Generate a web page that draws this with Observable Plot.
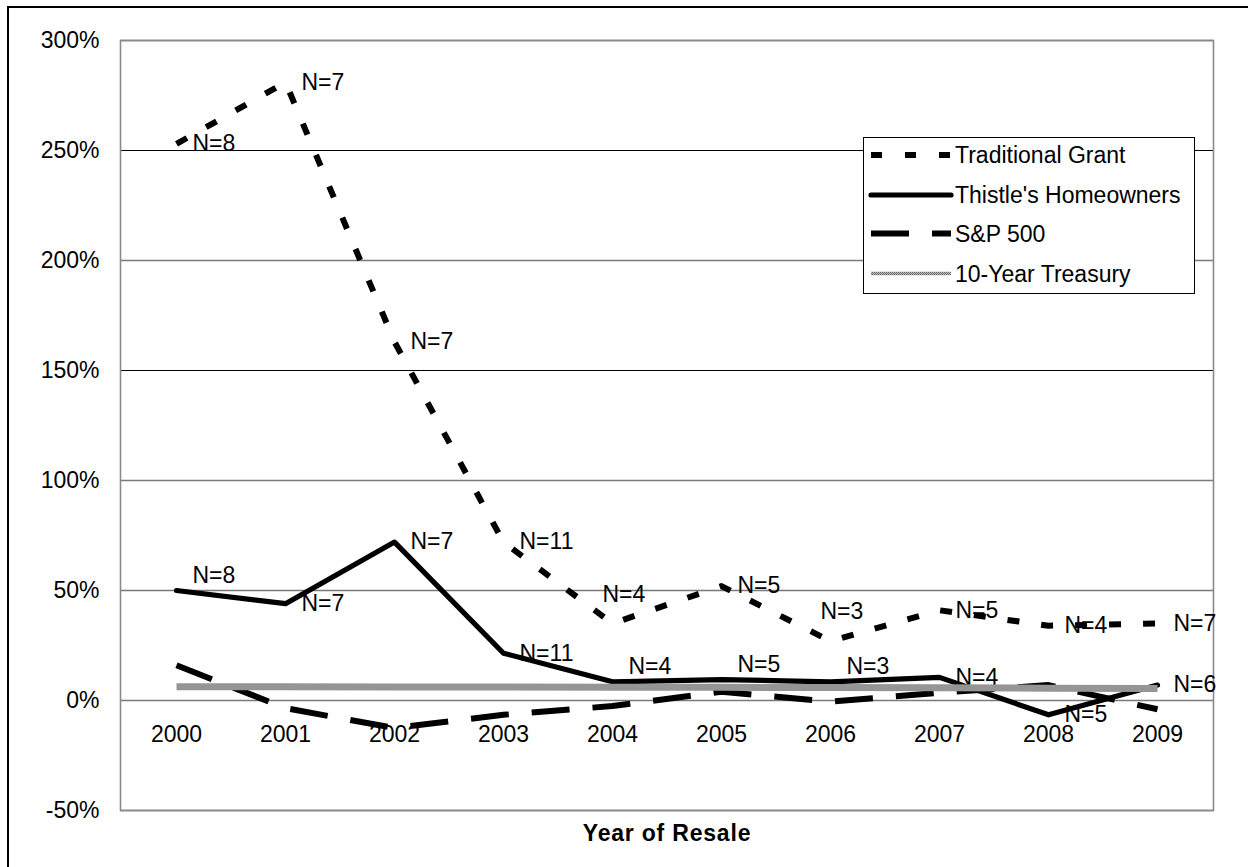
<!DOCTYPE html>
<html>
<head>
<meta charset="utf-8">
<script src="https://cdn.jsdelivr.net/npm/d3@7"></script>
<script src="https://cdn.jsdelivr.net/npm/@observablehq/plot@0.6"></script>
<style>
  html, body { margin: 0; padding: 0; background: #fff; overflow: hidden; }
  body { width: 1248px; height: 867px; position: relative; font-family: "Liberation Sans", Arial, sans-serif; }
  #chart { position: absolute; left: 0; top: 0; }
  #frame { position: absolute; left: 7px; top: 6px; width: 1400px; height: 1000px;
           border-top: 2px solid #000; border-left: 2px solid #000; pointer-events: none; }
  #legend { position: absolute; left: 863px; top: 137px; }
</style>
</head>
<body>
<svg width="0" height="0" style="position:absolute">
  <defs>
    <pattern id="dither" width="2" height="2" patternUnits="userSpaceOnUse">
      <rect width="2" height="2" fill="#c4c4c4"></rect>
      <rect width="1" height="1" fill="#666666"></rect>
      <rect x="1" y="1" width="1" height="1" fill="#666666"></rect>
    </pattern>
  </defs>
</svg>
<div id="chart"></div>
<div id="legend"></div>
<div id="frame"></div>
<script>
// ---- data ----
const years = ["2000", "2001", "2002", "2003", "2004", "2005", "2006", "2007", "2008", "2009"];
const traditionalGrant = [253, 281, 163, 72, 35, 52, 27, 41, 34, 35];
const thistleHomeowners = [50, 44, 72, 21.5, 8.5, 9.5, 8.5, 10.5, -6.5, 7];
const sp500 = [16, -3.5, -12.5, -6.5, -2.5, 4, -0.5, 3.5, 7, -4];
const treasury10 = [6.2, 6.2, 6.1, 6.1, 6.0, 6.0, 5.9, 5.8, 5.6, 5.4];
const traditionalN = [8, 7, 7, 11, 4, 5, 3, 5, 4, 7];
const thistleN = [8, 7, 7, 11, 4, 5, 3, 4, 5, 6];
const traditionalLabelSide = ["right", "right", "right", "right", "above", "right", "above", "right", "right", "right"];
const thistleLabelSide = ["upright", "right", "right", "right", "upright", "upright", "upright", "right", "right", "right"];
const yTicks = [-50, 0, 50, 100, 150, 200, 250, 300];
const seriesNames = ["Traditional Grant", "Thistle's Homeowners", "S&P 500", "10-Year Treasury"];
const xTitle = "Year of Resale";

// ---- table ----
const rows = years.map((year, i) => ({
  year,
  trad: traditionalGrant[i], thistle: thistleHomeowners[i], sp: sp500[i], tsy: treasury10[i],
  tradN: traditionalN[i], thistleN: thistleN[i],
  tradSide: traditionalLabelSide[i], thistleSide: thistleLabelSide[i]
}));

const FONT = "Liberation Sans, Arial, sans-serif";
const offsets = {right: [16, 0], upright: [16, -15], above: [-10, -29]};

function labelMarks(field, nField, sideField) {
  return Object.keys(offsets).map(side => Plot.text(rows.filter(d => d[sideField] === side), {
    x: "year", y: field, text: d => "N=" + d[nField],
    textAnchor: "start", dx: offsets[side][0], dy: offsets[side][1],
    fontSize: 23, fill: "#000"
  }));
}

const styles = {
  trad: {stroke: "#000", strokeWidth: 6, strokeDasharray: "12,22", strokeLinecap: "butt"},
  thistle: {stroke: "#000", strokeWidth: 5.2, strokeLinecap: "round", strokeLinejoin: "round"},
  sp: {stroke: "#000", strokeWidth: 6, strokeDasharray: "38,23", strokeLinecap: "butt"},
  tsy: {stroke: "url(#dither)", strokeWidth: 7, strokeLinecap: "butt"}
};

const chart = Plot.plot({
  width: 1248,
  height: 867,
  marginLeft: 120,
  marginRight: 35,
  marginTop: 40,
  marginBottom: 57,
  style: {fontFamily: FONT, fontSize: "23px", color: "#000", background: "transparent"},
  x: {type: "point", domain: years, padding: 0.5, axis: null},
  y: {domain: [-50, 300], axis: null},
  marks: [
    Plot.ruleY(yTicks.filter(v => v === 250 || v === 150), {stroke: "#000", strokeWidth: 1}),
    Plot.ruleY(yTicks.filter(v => v !== 250 && v !== 150), {stroke: "#7a7a7a", strokeWidth: 1.6}),
    Plot.frame({stroke: "#8a8a8a", strokeWidth: 1.6}),
    Plot.axisY({ticks: yTicks, tickFormat: d => d + "%", tickSize: 0, tickPadding: 21, label: null, fontSize: 23}),
    Plot.text(years, {x: d => d, y: () => 0, dy: 34, text: d => d, fontSize: 23, fill: "#000"}),
    Plot.text([xTitle], {frameAnchor: "bottom", dy: 30, text: d => d, fontSize: 23, fontWeight: "bold", fill: "#000"}),
    ...labelMarks("trad", "tradN", "tradSide"),
    ...labelMarks("thistle", "thistleN", "thistleSide"),
    Plot.line(rows, {x: "year", y: "trad", ...styles.trad}),
    Plot.line(rows, {x: "year", y: "thistle", ...styles.thistle}),
    Plot.line(rows, {x: "year", y: "sp", ...styles.sp}),
    Plot.line(rows, {x: "year", y: "tsy", ...styles.tsy})
  ]
});
d3.select(chart).selectAll("text").filter(function() { return this.textContent === xTitle; })
  .style("letter-spacing", "0.8px");
document.getElementById("chart").appendChild(chart);

// ---- legend ----
const legendKeys = ["trad", "thistle", "sp", "tsy"];
const lg = d3.select("#legend").append("svg").attr("width", 333).attr("height", 158)
  .style("font-family", FONT);
lg.append("rect").attr("x", 0.5).attr("y", 0.5).attr("width", 331).attr("height", 156)
  .attr("fill", "#fff").attr("stroke", "#000").attr("stroke-width", 1);
const rowY = [18, 58, 96.5, 136.5];
seriesNames.forEach((name, i) => {
  const s = styles[legendKeys[i]];
  lg.append("line").attr("x1", 8).attr("x2", 88).attr("y1", rowY[i]).attr("y2", rowY[i])
    .attr("stroke", s.stroke)
    .attr("stroke-width", legendKeys[i] === "tsy" ? 3.5 : s.strokeWidth)
    .attr("stroke-dasharray", legendKeys[i] === "trad" ? "11,23" : (s.strokeDasharray || null))
    .attr("stroke-linecap", s.strokeLinecap || "butt");
  lg.append("text").attr("x", 92).attr("y", rowY[i]).attr("dy", "0.35em")
    .attr("font-size", 23).attr("fill", "#000").text(name);
});
</script>
</body>
</html>
